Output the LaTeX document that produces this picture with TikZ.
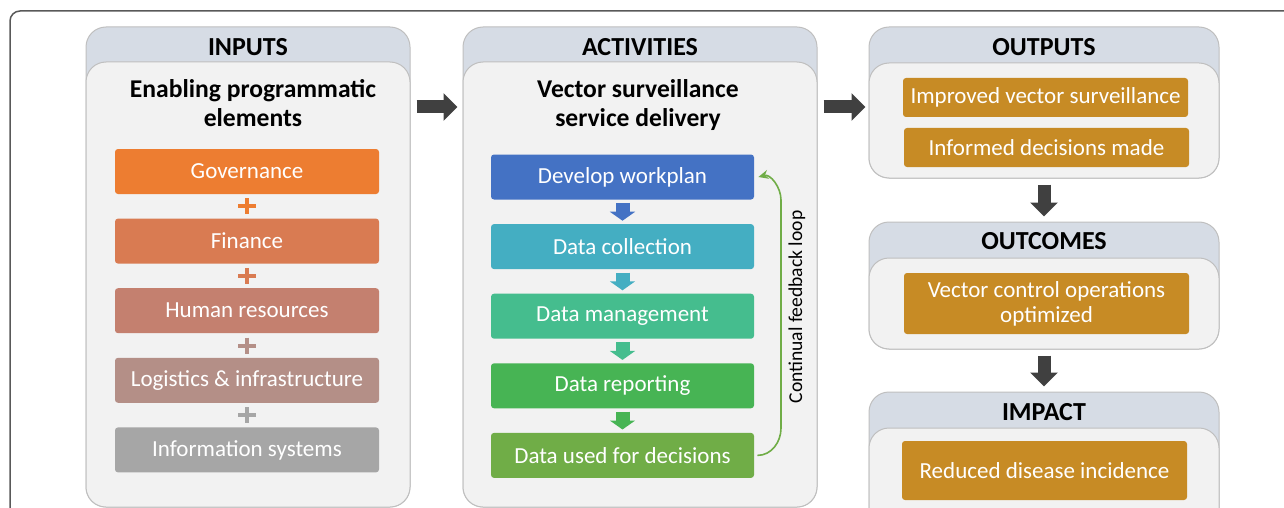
\documentclass[tikz,border=0pt]{standalone}
\usepackage{fontspec}
\setmainfont{Carlito}
\usetikzlibrary{positioning,arrows.meta,calc}

\definecolor{headfill}{HTML}{D6DCE5}
\definecolor{bodyfill}{HTML}{F2F2F2}
\definecolor{panelline}{HTML}{BFBFBF}
\definecolor{framegray}{HTML}{595959}
\definecolor{arrowgray}{HTML}{404040}
\definecolor{govcol}{HTML}{ED7D31}
\definecolor{fincol}{HTML}{D97B52}
\definecolor{hrcol}{HTML}{C4806F}
\definecolor{logcol}{HTML}{B48F87}
\definecolor{infocol}{HTML}{A6A6A6}
\definecolor{workcol}{HTML}{4472C4}
\definecolor{collcol}{HTML}{44AEC2}
\definecolor{mgmtcol}{HTML}{45BD8E}
\definecolor{repcol}{HTML}{47B454}
\definecolor{usecol}{HTML}{70AD47}
\definecolor{goldcol}{HTML}{C78B25}

\begin{document}
\begin{tikzpicture}[x=0.5pt, y=-0.5pt,
        headpanel/.style={draw=panelline, line width=0.5pt, fill=headfill, rounded corners=10pt, inner sep=0pt},
        bodypanel/.style={draw=panelline, line width=0.5pt, fill=bodyfill, rounded corners=10pt, inner sep=0pt},
        paneltitle/.style={font=\bfseries\fontsize{13}{15}\selectfont},
        subtitle/.style={font=\bfseries\fontsize{12.8}{14.5}\selectfont, align=center},
        elembox/.style={fill=#1, text=white, rounded corners=1.5pt, inner sep=0pt, minimum height=22.5pt,
            font=\fontsize{11.5}{12.5}\selectfont, align=center},
        outbox/.style={elembox=goldcol, minimum width=142.5pt},
        plussign/.style={line width=2pt, #1},
        stepdown/.style={line width=7pt, #1, -{Triangle[width=12.5pt,length=4.5pt]}, shorten <=1.5pt, shorten >=1.5pt},
        bigarrow/.style={line width=6.5pt, arrowgray, -{Triangle[width=13.5pt,length=7pt]}, shorten <=3pt, shorten >=2.5pt},
        feedback/.style={usecol, line width=0.8pt, -{Stealth[length=5pt,width=4.5pt]}},
        node distance=11.9pt]

    \useasboundingbox (0,0) rectangle (1284,508);
    \clip (0,0) rectangle (1284,508);
    \draw[framegray, line width=0.75pt, rounded corners=5pt] (10,11) rectangle (1340,560);

    % inputs
    \node[headpanel, minimum width=162pt, minimum height=240pt] (inputs) at (248,267) {};
    \node[bodypanel, minimum width=162pt, minimum height=222.5pt] (inputsbody) at (248,284.5) {};
    \node[paneltitle] (inputstitle) at (248,47) {INPUTS};
    \node[subtitle] (inputssub) at (253,103.5) {Enabling programmatic\\elements};

    \node[elembox=govcol, minimum width=132pt] (gov) at (247,171.5) {Governance};
    \node[elembox=fincol, minimum width=132pt, below=of gov] (fin) {Finance};
    \node[elembox=hrcol, minimum width=132pt, below=of fin] (hr) {Human resources};
    \node[elembox=logcol, minimum width=132pt, below=of hr] (logi) {Logistics \& infrastructure};
    \node[elembox=infocol, minimum width=132pt, below=of logi] (info) {Information systems};

    \foreach \a/\b/\c in {gov/fin/govcol, fin/hr/fincol, hr/logi/logcol, logi/info/infocol}
        \draw[plussign=\c] ($(\a.south)!.5!(\b.north)$) +(-9,0) -- +(9,0) +(0,-8) -- +(0,8);

    % activities
    \node[headpanel, minimum width=177pt, minimum height=240pt] (activities) at (640,267) {};
    \node[bodypanel, minimum width=177pt, minimum height=222.5pt] (activitiesbody) at (640,284.5) {};
    \node[paneltitle] (activitiestitle) at (640,47) {ACTIVITIES};
    \node[subtitle] (activitiessub) at (638,105) {Vector surveillance\\service delivery};

    \node[elembox=workcol, minimum width=131.5pt] (work) at (622.5,177) {Develop workplan};
    \node[elembox=collcol, minimum width=131.5pt, below=of work] (coll) {Data collection};
    \node[elembox=mgmtcol, minimum width=131.5pt, below=of coll] (mgmt) {Data management};
    \node[elembox=repcol, minimum width=131.5pt, below=of mgmt] (rep) {Data reporting};
    \node[elembox=usecol, minimum width=131.5pt, below=of rep] (used) {Data used for decisions};

    \foreach \a/\b/\c in {work/coll/workcol, coll/mgmt/collcol, mgmt/rep/mgmtcol, rep/used/repcol}
        \draw[stepdown=\c] (\a) -- (\b);

    \draw[feedback] ([xshift=1.5pt]used.east) to[out=0,in=-90] (781,428) -- (781,200)
        to[out=90,in=15] ([xshift=2pt]work.east);
    \node[font=\fontsize{9.8}{11}\selectfont, rotate=90] (looplabel) at (797,307) {Continual feedback loop};

    % outputs, outcomes, impact
    \node[headpanel, minimum width=175pt, minimum height=75.5pt] (outputs) at (1044,102.5) {};
    \node[bodypanel, minimum width=175pt, minimum height=57.5pt] (outputsbody) at (1044,120.5) {};
    \node[paneltitle] (outputstitle) at (1044,47) {OUTPUTS};
    \node[outbox, minimum height=19.5pt] (improved) at (1045.5,97.5) {Improved vector surveillance};
    \node[outbox, minimum height=19.5pt] (informed) at (1046.5,147.5) {Informed decisions made};

    \node[headpanel, minimum width=175pt, minimum height=63.5pt] (outcomes) at (1044,285.5) {};
    \node[bodypanel, minimum width=175pt, minimum height=45.5pt] (outcomesbody) at (1044,303.5) {};
    \node[paneltitle] (outcomestitle) at (1044,241) {OUTCOMES};
    \node[outbox, minimum height=30.5pt] (optimized) at (1046.5,303.5) {Vector control operations\\optimized};

    \node[headpanel, minimum width=175pt, minimum height=84pt] (impact) at (1044,476) {};
    \node[bodypanel, minimum width=175pt, minimum height=66pt] (impactbody) at (1044,494) {};
    \node[paneltitle] (impacttitle) at (1044,412) {IMPACT};
    \node[outbox, minimum height=29.5pt] (reduced) at (1044.5,470.5) {Reduced disease incidence};

    \coordinate (flow) at (0,107);
    \draw[bigarrow] (inputs.east |- flow) -- (activities.west |- flow);
    \draw[bigarrow, shorten >=1.5pt] (activities.east |- flow) -- (outputs.west |- flow);
    \draw[bigarrow] (outputs.south) -- (outcomes.north);
    \draw[bigarrow] (outcomes.south) -- (impact.north);

\end{tikzpicture}
\end{document}
